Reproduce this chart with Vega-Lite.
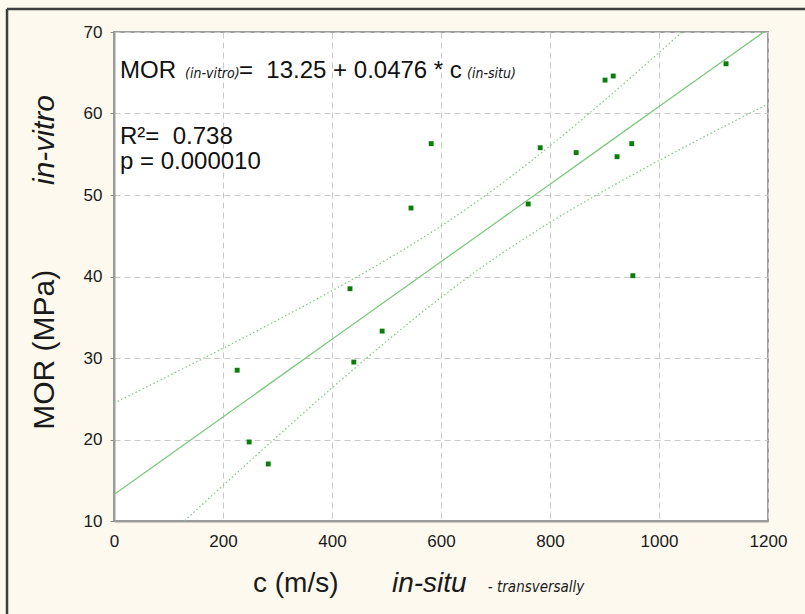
{
  "$schema": "https://vega.github.io/schema/vega-lite/v6.json",
  "autosize": "none",
  "width": 654,
  "height": 489,
  "padding": {"left": 114, "top": 32, "right": 37, "bottom": 93},
  "background": "#fdf9ee",
  "config": {
    "font": "Liberation Sans",
    "view": {"fill": "#ffffff", "stroke": "#9c9c9c", "strokeWidth": 2},
    "axis": {
      "grid": true,
      "gridColor": "#c9c9c9",
      "gridDash": [6, 4],
      "gridWidth": 1,
      "domainColor": "#9c9c9c",
      "domainWidth": 2,
      "tickColor": "#8a8a8a",
      "labelFont": "Liberation Sans",
      "labelFontSize": 17,
      "labelColor": "#1a1a1a",
      "title": null
    }
  },
  "datasets": {
    "samples": [
      {"c": 226, "mor": 28.5},
      {"c": 248, "mor": 19.7},
      {"c": 283, "mor": 17.0},
      {"c": 433, "mor": 38.5},
      {"c": 440, "mor": 29.5},
      {"c": 492, "mor": 33.3},
      {"c": 545, "mor": 48.4},
      {"c": 582, "mor": 56.3},
      {"c": 760, "mor": 48.9},
      {"c": 782, "mor": 55.8},
      {"c": 848, "mor": 55.2},
      {"c": 901, "mor": 64.1},
      {"c": 916, "mor": 64.6},
      {"c": 923, "mor": 54.7},
      {"c": 950, "mor": 56.3},
      {"c": 952, "mor": 40.1},
      {"c": 1123, "mor": 66.1}
    ],
    "fit": [
      {"c": 0, "fit": 13.25, "lo": 2.05, "hi": 24.45},
      {"c": 100, "fit": 18.01, "lo": 8.22, "hi": 27.8},
      {"c": 200, "fit": 22.77, "lo": 14.35, "hi": 31.19},
      {"c": 300, "fit": 27.53, "lo": 20.4, "hi": 34.66},
      {"c": 400, "fit": 32.29, "lo": 26.33, "hi": 38.25},
      {"c": 500, "fit": 37.05, "lo": 32.05, "hi": 42.05},
      {"c": 600, "fit": 41.81, "lo": 37.43, "hi": 46.19},
      {"c": 700, "fit": 46.57, "lo": 42.3, "hi": 50.84},
      {"c": 800, "fit": 51.33, "lo": 46.64, "hi": 56.02},
      {"c": 900, "fit": 56.09, "lo": 50.56, "hi": 61.62},
      {"c": 1000, "fit": 60.85, "lo": 54.23, "hi": 67.47},
      {"c": 1100, "fit": 65.61, "lo": 57.74, "hi": 73.48},
      {"c": 1200, "fit": 70.37, "lo": 61.16, "hi": 79.58}
    ]
  },
  "resolve": {"scale": {"x": "shared", "y": "shared"}},
  "layer": [
    {
      "data": {"name": "samples"},
      "mark": {"type": "square", "size": 24, "opacity": 1, "color": "#0b7d0b"},
      "encoding": {
        "x": {
          "field": "c", "type": "quantitative",
          "scale": {"domain": [0, 1200], "nice": false, "zero": false},
          "axis": {"values": [0, 200, 400, 600, 800, 1000, 1200], "format": "d", "ticks": false, "labelPadding": 12, "labelFlush": false}
        },
        "y": {
          "field": "mor", "type": "quantitative",
          "scale": {"domain": [10, 70], "nice": false, "zero": false},
          "axis": {"values": [10, 20, 30, 40, 50, 60, 70], "format": "d", "tickSize": 4, "labelPadding": 8}
        }
      }
    },
    {
      "data": {"name": "fit"},
      "mark": {"type": "line", "clip": true, "color": "#7ec87e", "strokeWidth": 1.3},
      "encoding": {
        "x": {"field": "c", "type": "quantitative"},
        "y": {"field": "fit", "type": "quantitative"}
      }
    },
    {
      "data": {"name": "fit"},
      "mark": {"type": "line", "clip": true, "interpolate": "monotone", "color": "#7ec87e", "strokeWidth": 1.2, "strokeDash": [1.5, 2.5]},
      "encoding": {
        "x": {"field": "c", "type": "quantitative"},
        "y": {"field": "lo", "type": "quantitative"}
      }
    },
    {
      "data": {"name": "fit"},
      "mark": {"type": "line", "clip": true, "interpolate": "monotone", "color": "#7ec87e", "strokeWidth": 1.2, "strokeDash": [1.5, 2.5]},
      "encoding": {
        "x": {"field": "c", "type": "quantitative"},
        "y": {"field": "hi", "type": "quantitative"}
      }
    },
    {
      "data": {"values": [{"label": "MOR"}]},
      "mark": {"type": "text", "align": "left", "baseline": "alphabetic", "fontSize": 24, "color": "#111111"},
      "encoding": {"x": {"datum": 11}, "y": {"datum": 64.36}, "text": {"field": "label"}}
    },
    {
      "data": {"values": [{"label": "(in-vitro)"}]},
      "mark": {"type": "text", "align": "left", "baseline": "alphabetic", "fontSize": 14, "fontStyle": "italic", "font": "Liberation Sans Narrow, DejaVu Sans Condensed, Liberation Sans", "color": "#111111"},
      "encoding": {"x": {"datum": 130.3}, "y": {"datum": 64.36}, "text": {"field": "label"}}
    },
    {
      "data": {"values": [{"label": "=\u00a0\u00a013.25 + 0.0476 * c"}]},
      "mark": {"type": "text", "align": "left", "baseline": "alphabetic", "fontSize": 24, "color": "#111111"},
      "encoding": {"x": {"datum": 229.4}, "y": {"datum": 64.36}, "text": {"field": "label"}}
    },
    {
      "data": {"values": [{"label": "(in-situ)"}]},
      "mark": {"type": "text", "align": "left", "baseline": "alphabetic", "fontSize": 14, "fontStyle": "italic", "font": "Liberation Sans Narrow, DejaVu Sans Condensed, Liberation Sans", "color": "#111111"},
      "encoding": {"x": {"datum": 647.7}, "y": {"datum": 64.36}, "text": {"field": "label"}}
    },
    {
      "data": {"values": [{"label": "R²=\u00a0\u00a00.738"}]},
      "mark": {"type": "text", "align": "left", "baseline": "alphabetic", "fontSize": 24, "color": "#111111"},
      "encoding": {"x": {"datum": 11}, "y": {"datum": 56.26}, "text": {"field": "label"}}
    },
    {
      "data": {"values": [{"label": "p = 0.000010"}]},
      "mark": {"type": "text", "align": "left", "baseline": "alphabetic", "fontSize": 24, "color": "#111111"},
      "encoding": {"x": {"datum": 11}, "y": {"datum": 53.19}, "text": {"field": "label"}}
    },
    {
      "data": {"values": [{"label": "c (m/s)"}]},
      "mark": {"type": "text", "align": "left", "baseline": "alphabetic", "fontSize": 28, "color": "#1a1a1a"},
      "encoding": {"x": {"datum": 255}, "y": {"datum": 1.29}, "text": {"field": "label"}}
    },
    {
      "data": {"values": [{"label": "in-situ"}]},
      "mark": {"type": "text", "align": "left", "baseline": "alphabetic", "fontSize": 28, "fontStyle": "italic", "color": "#1a1a1a"},
      "encoding": {"x": {"datum": 510}, "y": {"datum": 1.29}, "text": {"field": "label"}}
    },
    {
      "data": {"values": [{"label": "- transversally"}]},
      "mark": {"type": "text", "align": "left", "baseline": "alphabetic", "fontSize": 15, "fontStyle": "italic", "font": "Liberation Sans Narrow, DejaVu Sans Condensed, Liberation Sans", "color": "#1a1a1a"},
      "encoding": {"x": {"datum": 686}, "y": {"datum": 1.29}, "text": {"field": "label"}}
    },
    {
      "data": {"values": [{"label": "MOR (MPa)"}]},
      "mark": {"type": "text", "align": "center", "baseline": "middle", "angle": 270, "fontSize": 30, "color": "#1a1a1a"},
      "encoding": {"x": {"datum": -126.6}, "y": {"datum": 31.0}, "text": {"field": "label"}}
    },
    {
      "data": {"values": [{"label": "in-vitro"}]},
      "mark": {"type": "text", "align": "center", "baseline": "middle", "angle": 270, "fontSize": 30, "fontStyle": "italic", "color": "#1a1a1a"},
      "encoding": {"x": {"datum": -126.6}, "y": {"datum": 56.75}, "text": {"field": "label"}}
    },
    {
      "data": {"values": [{}]},
      "mark": {"type": "rule", "color": "#3f3f3f", "strokeWidth": 2.5},
      "encoding": {"x": {"datum": -196.3}, "y": {"datum": -1.5}, "y2": {"datum": 72.82}}
    },
    {
      "data": {"values": [{}]},
      "mark": {"type": "rule", "color": "#3f3f3f", "strokeWidth": 2.5},
      "encoding": {"y": {"datum": 72.82}, "x": {"datum": -196.3}, "x2": {"datum": 1270}}
    }
  ]
}
